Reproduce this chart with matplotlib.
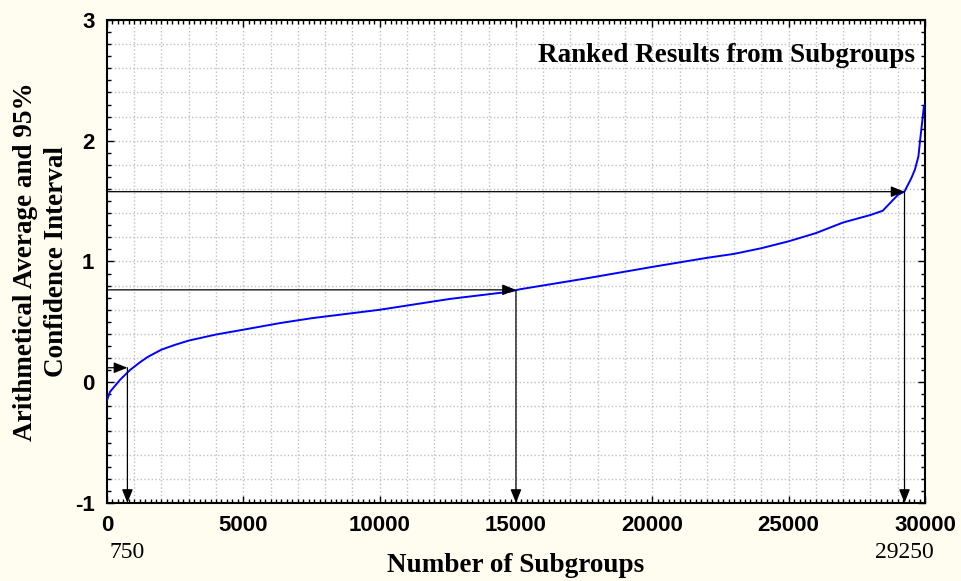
import numpy as np
import matplotlib
matplotlib.use('Agg')
import matplotlib.pyplot as plt
from matplotlib.ticker import MultipleLocator

plt.rcParams['axes.unicode_minus'] = False

# ranked subgroup results
n_subgroups = [0, 110, 480, 840, 1210, 1500, 2000, 2500, 3000, 4000, 5000, 6350,
               7500, 10000, 12580, 14780, 15150, 17500, 20000, 22000, 23000,
               24000, 25000, 26000, 27000, 28000, 28450, 29000, 29250, 29500,
               29630, 29760, 29820, 29960, 30000]
avg_value = [-0.15, -0.08, 0.02, 0.10, 0.165, 0.21, 0.27, 0.31, 0.345, 0.395, 0.435, 0.49,
             0.53, 0.60, 0.69, 0.75, 0.77, 0.857, 0.955, 1.03, 1.063,
             1.11, 1.167, 1.235, 1.323, 1.385, 1.42, 1.55, 1.58, 1.69,
             1.76, 1.87, 2.0, 2.28, 2.30]

# marked positions (2.5%, 50%, 97.5%) and the curve level there
mark_pos = [750, 15000, 29250]
mark_level = [0.12, 0.765, 1.578]
extra_labels = ['750', '29250']

bg = '#FFFCF0'
fig = plt.figure(figsize=(9.61, 5.81), dpi=100, facecolor=bg)
ax = fig.add_axes([0.1113, 0.1343, 0.8512, 0.8313])
ax.set_facecolor('white')

# dotted grid every 1000 / 0.2
for gx in np.arange(1000, 30000, 1000):
    ax.axvline(gx, color='#C0C0C0', ls=':', lw=1, zorder=0)
for gy in np.arange(-0.8, 3.0, 0.2):
    ax.axhline(gy, color='#C0C0C0', ls=':', lw=1, zorder=0)

ax.plot(n_subgroups, avg_value, color='#0000FF', lw=1.4, zorder=3)

arrow_kw = dict(arrowstyle='-|>,head_length=0.55,head_width=0.22', color='black',
                lw=0.9, mutation_scale=15, shrinkA=0, shrinkB=0)
for p, lv in zip(mark_pos, mark_level):
    ax.annotate('', xy=(p, lv), xytext=(0, lv), arrowprops=arrow_kw, zorder=4)
    ax.annotate('', xy=(p, -1), xytext=(p, lv), arrowprops=arrow_kw, zorder=4)

ax.set_xlim(0, 30000)
ax.set_ylim(-1, 3)
ax.xaxis.set_major_locator(MultipleLocator(5000))
ax.xaxis.set_minor_locator(MultipleLocator(200))
ax.yaxis.set_major_locator(MultipleLocator(1))
ax.yaxis.set_minor_locator(MultipleLocator(0.1))
ax.tick_params(which='both', direction='in', top=True, right=True, color='black')
ax.tick_params(which='major', length=5, width=1, pad=9)
ax.tick_params(which='minor', length=3, width=1)
for lab in ax.get_xticklabels() + ax.get_yticklabels():
    lab.set_fontfamily('Liberation Sans')
    lab.set_fontweight('bold')
    lab.set_fontsize(16)
for s in ax.spines.values():
    s.set_linewidth(1.5)

for p, txt in zip([mark_pos[0], mark_pos[2]], extra_labels):
    ax.annotate(txt, xy=(p, 0), xycoords=('data', 'axes fraction'),
                xytext=(0, -36), textcoords='offset points', ha='center', va='center',
                fontfamily='Liberation Serif', fontsize=17)

ax.set_xlabel('Number of Subgroups', fontfamily='Liberation Serif',
              fontweight='bold', fontsize=19.5)
ax.xaxis.set_label_coords(0.5, -0.104)
ax.set_ylabel('Arithmetical Average and 95%\nConfidence Interval',
              fontfamily='Liberation Serif', fontweight='bold', fontsize=19.5,
              linespacing=1.35)
ax.yaxis.set_label_coords(-0.046, 0.5)

ax.text(0.988, 0.9275, 'Ranked Results from Subgroups', transform=ax.transAxes,
        ha='right', va='center', fontfamily='Liberation Serif', fontweight='bold',
        fontsize=19.5)

fig.savefig('out.png', dpi=100, facecolor=bg)
